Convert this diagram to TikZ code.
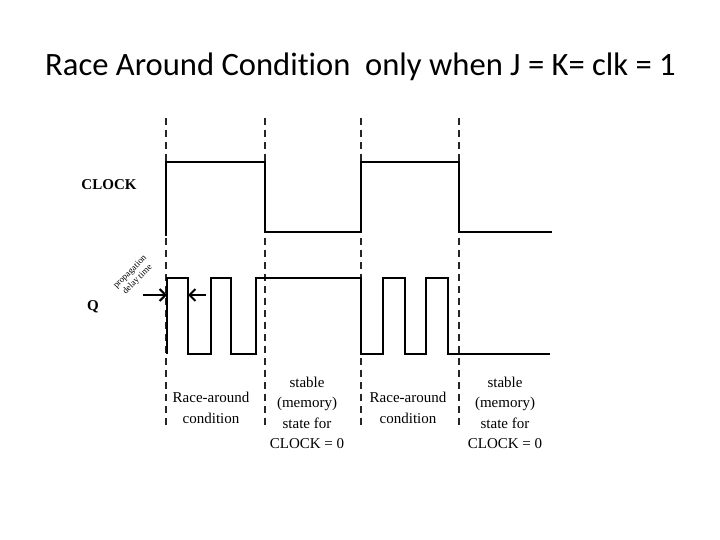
\documentclass[tikz,border=0pt]{standalone}
\usepackage{fontspec}
\setmainfont{Liberation Serif}
\newfontfamily\titlefont[Ligatures=NoCommon]{Carlito}
\usetikzlibrary{arrows.meta, positioning}
\tikzset{
  sig/.style={line width=2.8pt, line join=miter},
  clk/.style={line width=2.3pt, line join=miter},
  edgeline/.style={line width=1.4pt, dash pattern=on 7pt off 5pt, black!85},
  lbl/.style={font=\fontsize{15}{20.5}\selectfont, align=center, inner sep=0pt},
  sname/.style={font=\fontsize{15}{18}\selectfont\bfseries, inner sep=0pt},
  delay/.style={line width=2pt, -{Straight Barb[length=6pt, width=12pt]}}
}
\begin{document}
\begin{tikzpicture}[x=1pt, y=-1pt]
  \useasboundingbox (0,0) rectangle (720,540);

  \node[anchor=base west, inner sep=0pt, font=\titlefont\fontsize{32.6}{34}\selectfont]
    (title) at (45,76) {Race Around Condition\ \ only when J = K= clk = 1};

  % clock edges
  \foreach \x in {166,265,361,459}
    \draw[edgeline] (\x,118) -- (\x,425);

  % waveforms
  \draw[clk] (166,236) -- (166,162) -- (265,162) -- (265,232) -- (361,232)
    -- (361,162) -- (459,162) -- (459,232) -- (552,232);
  \draw[sig] (167,354) -- (167,278) -- (188,278) -- (188,354) -- (211,354)
    -- (211,278) -- (231,278) -- (231,354) -- (256,354) -- (256,278)
    -- (361,278) -- (361,354) -- (383,354) -- (383,278) -- (405,278)
    -- (405,354) -- (426,354) -- (426,278) -- (448,278) -- (448,354)
    -- (550,354);

  \node[sname] (clock) at (109,185) {CLOCK};
  \node[sname] (q) at (93,307) {Q};

  % propagation delay
  \coordinate (dl) at (143,295);
  \coordinate (qa) at (167,295);
  \coordinate (dr) at (206,295);
  \coordinate (qb) at (188,295);
  \draw[delay] (dl) -- (qa);
  \draw[delay] (dr) -- (qb);
  \node[lbl, font=\fontsize{9}{10.5}\selectfont, rotate=45] (pd) at (134,276)
    {propagation\\delay time};

  \node[lbl] (race1)   at (211,408) {Race-around\\condition};
  \node[lbl] (stable1) at (307,413) {stable\\(memory)\\state for\\CLOCK = 0};
  \node[lbl] (race2)   at (408,408) {Race-around\\condition};
  \node[lbl] (stable2) at (505,413) {stable\\(memory)\\state for\\CLOCK = 0};
\end{tikzpicture}
\end{document}
